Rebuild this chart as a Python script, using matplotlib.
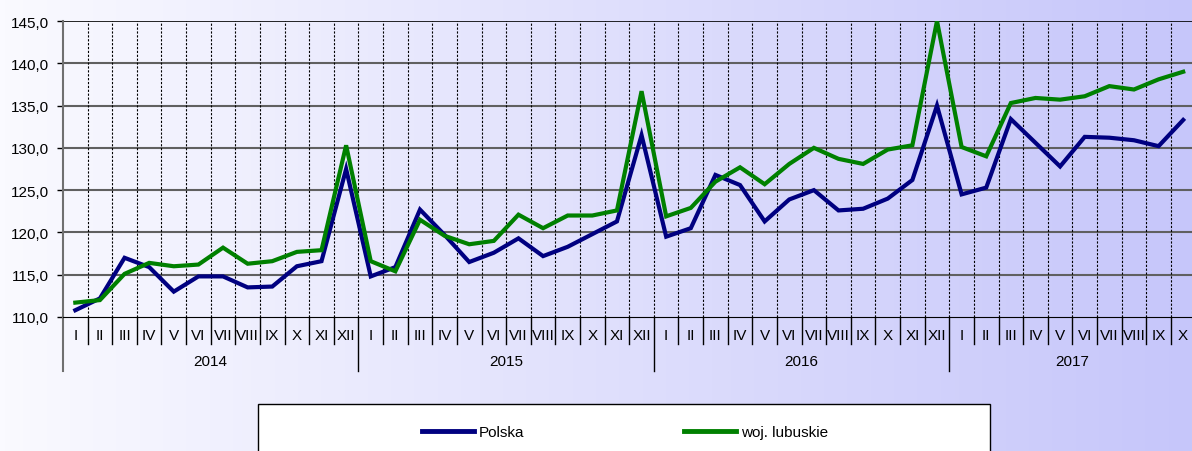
import numpy as np
import matplotlib.pyplot as plt
from matplotlib.patches import Rectangle
from matplotlib.lines import Line2D

plt.rcParams['font.family'] = ['Liberation Sans', 'DejaVu Sans']

# Data
years = ['2014', '2015', '2016', '2017']
months_per_year = [12, 12, 12, 10]
roman = ['I', 'II', 'III', 'IV', 'V', 'VI', 'VII', 'VIII', 'IX', 'X', 'XI', 'XII']

polska = [110.8, 112.2, 117.0, 115.9, 113.0, 114.8, 114.8, 113.5, 113.6, 116.0, 116.6, 127.5,
          114.8, 115.9, 122.7, 119.7, 116.5, 117.6, 119.3, 117.2, 118.3, 119.8, 121.3, 131.5,
          119.5, 120.5, 126.8, 125.6, 121.3, 123.9, 125.0, 122.6, 122.8, 124.0, 126.2, 135.0,
          124.5, 125.3, 133.4, 130.6, 127.8, 131.3, 131.2, 130.9, 130.2, 133.3]
lubuskie = [111.7, 112.0, 115.1, 116.4, 116.0, 116.2, 118.2, 116.3, 116.6, 117.7, 117.9, 130.3,
            116.6, 115.4, 121.5, 119.6, 118.6, 119.0, 122.1, 120.5, 122.0, 122.0, 122.6, 136.7,
            121.9, 122.9, 126.0, 127.7, 125.7, 128.1, 130.0, 128.7, 128.1, 129.8, 130.3, 145.0,
            130.1, 129.0, 135.3, 135.9, 135.7, 136.1, 137.3, 136.9, 138.1, 139.0]

month_labels = []
for n in months_per_year:
    month_labels += roman[:n]
n_total = len(month_labels)

W, H = 1192, 452
fig = plt.figure(figsize=(W / 100, H / 100), dpi=100)

# gradient background
bg = fig.add_axes([0, 0, 1, 1], zorder=-10)
grad = np.linspace(0, 1, 256).reshape(1, -1)
c0 = np.array([250, 250, 255]) / 255
c1 = np.array([198, 198, 250]) / 255
img = c0[None, None, :] * (1 - grad[..., None]) + c1[None, None, :] * grad[..., None]
bg.imshow(img, aspect='auto', extent=[0, 1, 0, 1])
bg.set_axis_off()

left, right, top, bottom = 63, 1195.5, 22, 318
ax = fig.add_axes([left / W, 1 - bottom / H, (right - left) / W, (bottom - top) / H])
ax.set_facecolor('none')

x = np.arange(n_total) + 0.5
ax.plot(x, polska, color='#000080', lw=3, label='Polska', zorder=5, solid_joinstyle='miter')
ax.plot(x, lubuskie, color='#008000', lw=3, label='woj. lubuskie', zorder=6, solid_joinstyle='miter')

ax.set_xlim(0, n_total)
ax.set_ylim(110, 145)
yt = np.arange(110, 145.1, 5)
ax.set_yticks(yt)
ax.set_yticklabels([f'{v:.1f}'.replace('.', ',') for v in yt], fontsize=11)
ax.tick_params(axis='y', length=4, width=1, pad=6, colors='#000000')
ax.set_xticks([])

for v in yt[1:-1]:
    ax.axhline(v, color='#606060', lw=1.5, zorder=1)
ax.axhline(145, color='black', lw=1.2, zorder=1)
for i in range(1, n_total):
    ax.axvline(i, color='black', lw=0.8, ls=(0, (2, 1.5)), zorder=1)

for s in ['top', 'right']:
    ax.spines[s].set_visible(False)
ax.spines['bottom'].set_color('black')
ax.spines['left'].set_color('#707070')
ax.spines['left'].set_linewidth(1.5)

trans = ax.get_xaxis_transform()
month_y = -(336 - bottom) / (bottom - top)
year_y = -(362 - bottom) / (bottom - top)
sep_m = -(345 - bottom) / (bottom - top)
sep_y = -(372 - bottom) / (bottom - top)

for i, lab in enumerate(month_labels):
    ax.text(i + 0.5, month_y, lab, transform=trans, ha='center', va='center', fontsize=11)

ax.plot([0, 0], [0, sep_y], transform=trans, color='#707070', lw=1.5, clip_on=False)
bounds = np.cumsum(months_per_year)
start = 0
for yr, n in zip(years, months_per_year):
    ax.text(start + n / 2, year_y, yr, transform=trans, ha='center', va='center', fontsize=11)
    start += n
for i in range(1, n_total):
    low = sep_y if i in bounds else sep_m
    ax.plot([i, i], [0, low], transform=trans, color='black', lw=1, clip_on=False)

# legend box
fig.patches.append(Rectangle((258 / W, -0.05), (990 - 258) / W, (452 - 405) / H + 0.05,
                             transform=fig.transFigure, facecolor='white',
                             edgecolor='black', lw=1, zorder=1))
handles = [Line2D([], [], color='#000080', lw=3.5),
           Line2D([], [], color='#008000', lw=3.5)]
fig.legend(handles, ['Polska', 'woj. lubuskie'], loc='center',
           bbox_to_anchor=(625 / W, 1 - 433 / H), ncol=2, frameon=False,
           fontsize=11, handlelength=3.4, handletextpad=0.3, columnspacing=10.5)

fig.savefig('out.png', dpi=100)
